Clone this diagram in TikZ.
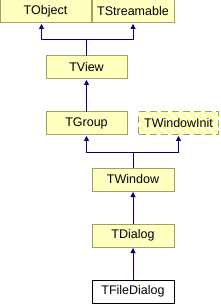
\documentclass[tikz,border=0pt]{standalone}
\usepackage{fontspec}
\setmainfont{Liberation Sans}
\usetikzlibrary{positioning,arrows.meta}
\definecolor{boxfill}{HTML}{FFFFC0}
\definecolor{boxline}{HTML}{A0A060}
\definecolor{stripe}{HTML}{FFFF9A}
\definecolor{edgeblue}{HTML}{000080}

\begin{document}
\begin{tikzpicture}[node distance=33pt and 1pt, every node/.style={font=\fontsize{12.5}{14}\selectfont}]
\tikzstyle{cls}=[draw=boxline, fill=boxfill, line width=1pt, minimum width=82pt, minimum height=23pt, inner sep=0pt, outer sep=0pt]
\tikzstyle{focus}=[cls, draw=black, fill=white]
\tikzstyle{undoc}=[draw=boxline, line width=1pt, minimum width=82pt, minimum height=23pt, inner sep=0pt, outer sep=0pt, dash pattern=on 7pt off 4pt]
\tikzstyle{inh}=[edgeblue, line width=1pt, -{Triangle[length=5pt,width=5pt]}, shorten >=1pt]
\useasboundingbox (0,0) rectangle (220pt,-304pt);
\node[cls, minimum width=91pt] (tobj) at (45.5pt,-11.5pt) {TObject};
\node[cls, right=of tobj] (tstream) {TStreamable};
\node[cls, minimum width=81pt, below=of tobj, xshift=41pt] (tview) {TView};
\node[cls, minimum width=81pt, below=of tview] (tgroup) {TGroup};
\coordinate[right=11.5pt of tgroup.east] (winitw);
% stripes of the undocumented class
\begin{scope}
\clip ([yshift=-11.5pt]winitw) rectangle ++(80pt,23pt);
\foreach \k in {-4,...,11}
  \fill[stripe] ([xshift=\k*8pt, yshift=11.5pt]winitw) -- ++(4.5pt,0pt) -- ++(30pt,-30pt) -- ++(-4.5pt,0pt) -- cycle;
\end{scope}
\node[undoc, minimum width=80pt, right=11.5pt of tgroup] (twinit) {TWindowInit};
\node[cls, below=of tgroup, xshift=46.5pt] (twin) {TWindow};
\node[cls, below=of twin] (tdlg) {TDialog};
\node[focus, below=of tdlg] (tfdlg) {TFileDialog};
\draw[inh] (tview.north) -- ++(0,16pt) coordinate (j1) -| ([xshift=-4pt]tobj.south);
\draw[inh] (j1) -| (tstream.south);
\draw[inh] (tgroup.north) -- (tview.south);
\draw[inh] (twin.north) -- ++(0,16pt) coordinate (j2) -| (tgroup.south);
\draw[inh] (j2) -| (twinit.south);
\draw[inh] (tdlg.north) -- (twin.south);
\draw[inh] (tfdlg.north) -- (tdlg.south);
\end{tikzpicture}
\end{document}
